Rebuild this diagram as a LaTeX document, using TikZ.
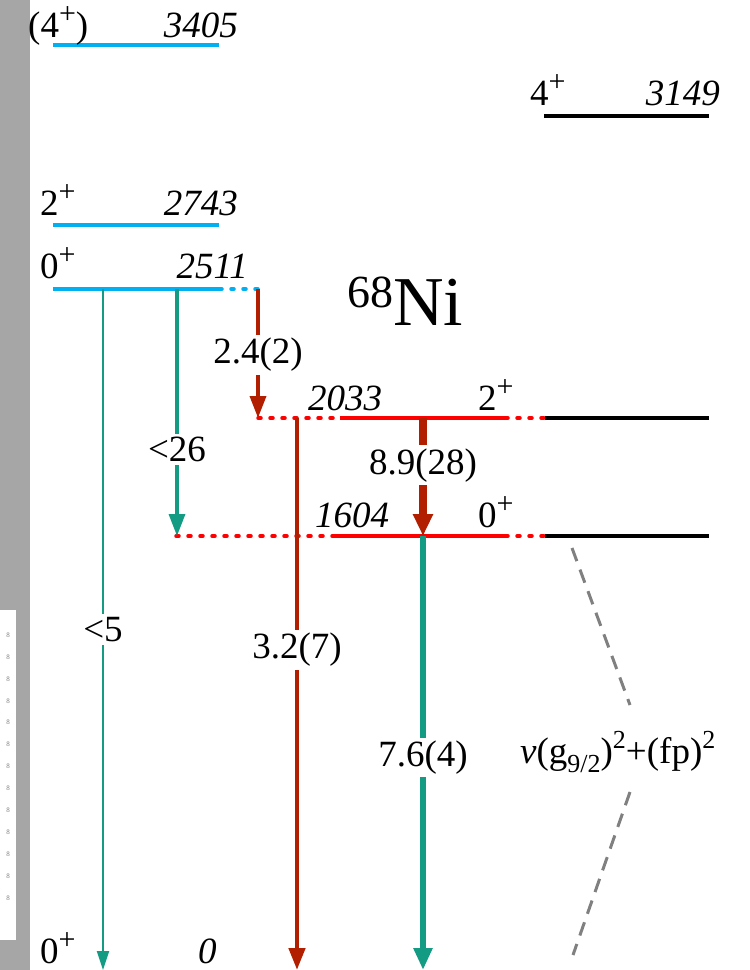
\documentclass[tikz,border=0pt]{standalone}
\usepackage{fontspec}
\setmainfont{Liberation Serif}
\usetikzlibrary{arrows.meta}
\definecolor{lvblue}{HTML}{00B0F0}
\definecolor{lvred}{HTML}{FF0000}
\definecolor{trred}{HTML}{B21E00}
\definecolor{trgreen}{HTML}{139B83}
\definecolor{barg}{HTML}{A6A6A6}
\newcommand{\upp}[1]{\raisebox{0.36em}{\fontsize{30}{32}\selectfont #1}}
\tikzset{
  lev/.style={line width=3.5pt},
  dotlev/.style={line width=3.5pt, line cap=round, dash pattern=on 3pt off 9pt},
  lbl/.style={font=\fontsize{37}{44}\selectfont, inner sep=0pt, text=black},
  en/.style={lbl, font=\fontsize{37}{44}\selectfont\itshape, anchor=base east},
  spin/.style={lbl, anchor=base west},
  gam/.style={-{Triangle[length=22pt,width=16pt]}},
  br/.style={lbl, fill=white, inner sep=3pt},
}
\begin{document}
\begin{tikzpicture}[x=1pt,y=-1pt]
\useasboundingbox (0,0) rectangle (750,970);
% page edge on the left
\fill[barg] (0,0) rectangle (30,970);
\fill[white] (0,610) rectangle (16,940);
\foreach \k in {0,...,12}
  \node[text=gray, font=\fontsize{7}{8}\selectfont, inner sep=0pt] (pg\k) at (8,{635+21.9*\k}) {8};

% levels
\coordinate (l3405a) at (53,45);  \coordinate (l3405b) at (219,45);
\coordinate (l2743a) at (53,225); \coordinate (l2743b) at (219,225);
\coordinate (l2511a) at (53,289); \coordinate (l2511b) at (219,289); \coordinate (l2511c) at (258,289);
\coordinate (l3149a) at (544,116); \coordinate (l3149b) at (709,116);
\coordinate (l2033a) at (258,418); \coordinate (l2033b) at (340,418);
\coordinate (l2033c) at (505,418); \coordinate (l2033d) at (545,418); \coordinate (l2033e) at (709,418);
\coordinate (l1604a) at (176,536); \coordinate (l1604b) at (335,536);
\coordinate (l1604c) at (505,536); \coordinate (l1604d) at (545,536); \coordinate (l1604e) at (709,536);

\draw[lev, lvblue] (l3405a) -- (l3405b);
\draw[lev, lvblue] (l2743a) -- (l2743b);
\draw[lev, lvblue] (l2511a) -- (l2511b);
\draw[dotlev, lvblue] (l2511b) -- (l2511c);
\draw[lev] (l3149a) -- (l3149b);
\draw[dotlev, lvred] (l2033a) -- (l2033b);
\draw[lev, lvred] (l2033b) -- (l2033c);
\draw[dotlev, lvred] (l2033c) -- (l2033d);
\draw[lev] (l2033d) -- (l2033e);
\draw[dotlev, lvred] (l1604a) -- (l1604b);
\draw[lev, lvred] (l1604b) -- (l1604c);
\draw[dotlev, lvred] (l1604c) -- (l1604d);
\draw[lev] (l1604d) -- (l1604e);

% level labels
\node[spin] (s3405) at (28,37) {(4\upp{+})};
\node[en] (e3405) at (238,37) {3405};
\node[spin] (s2743) at (40,215) {2\upp{+}};
\node[en] (e2743) at (238,215) {2743};
\node[spin] (s2511) at (40,278) {0\upp{+}};
\node[en] (e2511) at (248,278) {2511};
\node[spin] (s3149) at (530,105) {4\upp{+}};
\node[en] (e3149) at (720,105) {3149};
\node[en, anchor=base west] (e2033) at (308,410) {2033};
\node[spin] (s2033) at (478,410) {2\upp{+}};
\node[en, anchor=base west] (e1604) at (315,527) {1604};
\node[spin] (s1604) at (478,527) {0\upp{+}};
\node[spin] (s0) at (40,963) {0\upp{+}};
\node[en, anchor=base west] (e0) at (198,963) {0};
\node[lbl, anchor=base west] (nuc) at (347,325)
  {\raisebox{0.48em}{\fontsize{46}{50}\selectfont 68}\fontsize{70}{76}\selectfont Ni};

% transitions
\coordinate (t5a) at (103,289);  \coordinate (t5b) at (103,970);
\coordinate (t26a) at (177,289); \coordinate (t26b) at (177,536);
\coordinate (t24a) at (258,289); \coordinate (t24b) at (258,418);
\coordinate (t32a) at (297,418); \coordinate (t32b) at (297,970);
\coordinate (t89a) at (423,418); \coordinate (t89b) at (423,536);
\coordinate (t76a) at (423,536); \coordinate (t76b) at (423,970);

\draw[trgreen, line width=2pt, -{Triangle[length=19pt,width=12pt]}] (t5a) -- node[br, pos=0.5] (b5) {<5} (t5b);
\draw[gam, trgreen, line width=3.3pt] (t26a) -- node[br, pos=0.65] (b26) {<26} (t26b);
\draw[gam, trred, line width=3.5pt] (t24a) -- node[br, pos=0.51] (b24) {2.4(2)} (t24b);
\draw[gam, trred, line width=4.5pt] (t32a) -- node[br, pos=0.42] (b32) {3.2(7)} (t32b);
\draw[trred, line width=8pt, -{Triangle[length=22pt,width=19pt]}] (t89a) -- node[br, pos=0.40] (b89) {8.9(28)} (t89b);
\draw[gam, trgreen, line width=6pt, -{Triangle[length=22pt,width=18pt]}] (t76a) -- node[br, pos=0.51] (b76) {7.6(4)} (t76b);

% configuration
\node[lbl, anchor=west] (cfg) at (520,752)
  {\textit{ν}(g\raisebox{-0.25em}{\fontsize{26}{28}\selectfont 9/2})\raisebox{0.42em}{\fontsize{26}{28}\selectfont 2}+(fp)\raisebox{0.42em}{\fontsize{26}{28}\selectfont 2}};
\coordinate (c1) at (572,548);
\coordinate (c2) at (573,955);
\draw[gray, line width=3pt, dash pattern=on 14pt off 9pt] (c1) -- (630,705);
\draw[gray, line width=3pt, dash pattern=on 14pt off 9pt] (630,792) -- (c2);
\end{tikzpicture}
\end{document}
